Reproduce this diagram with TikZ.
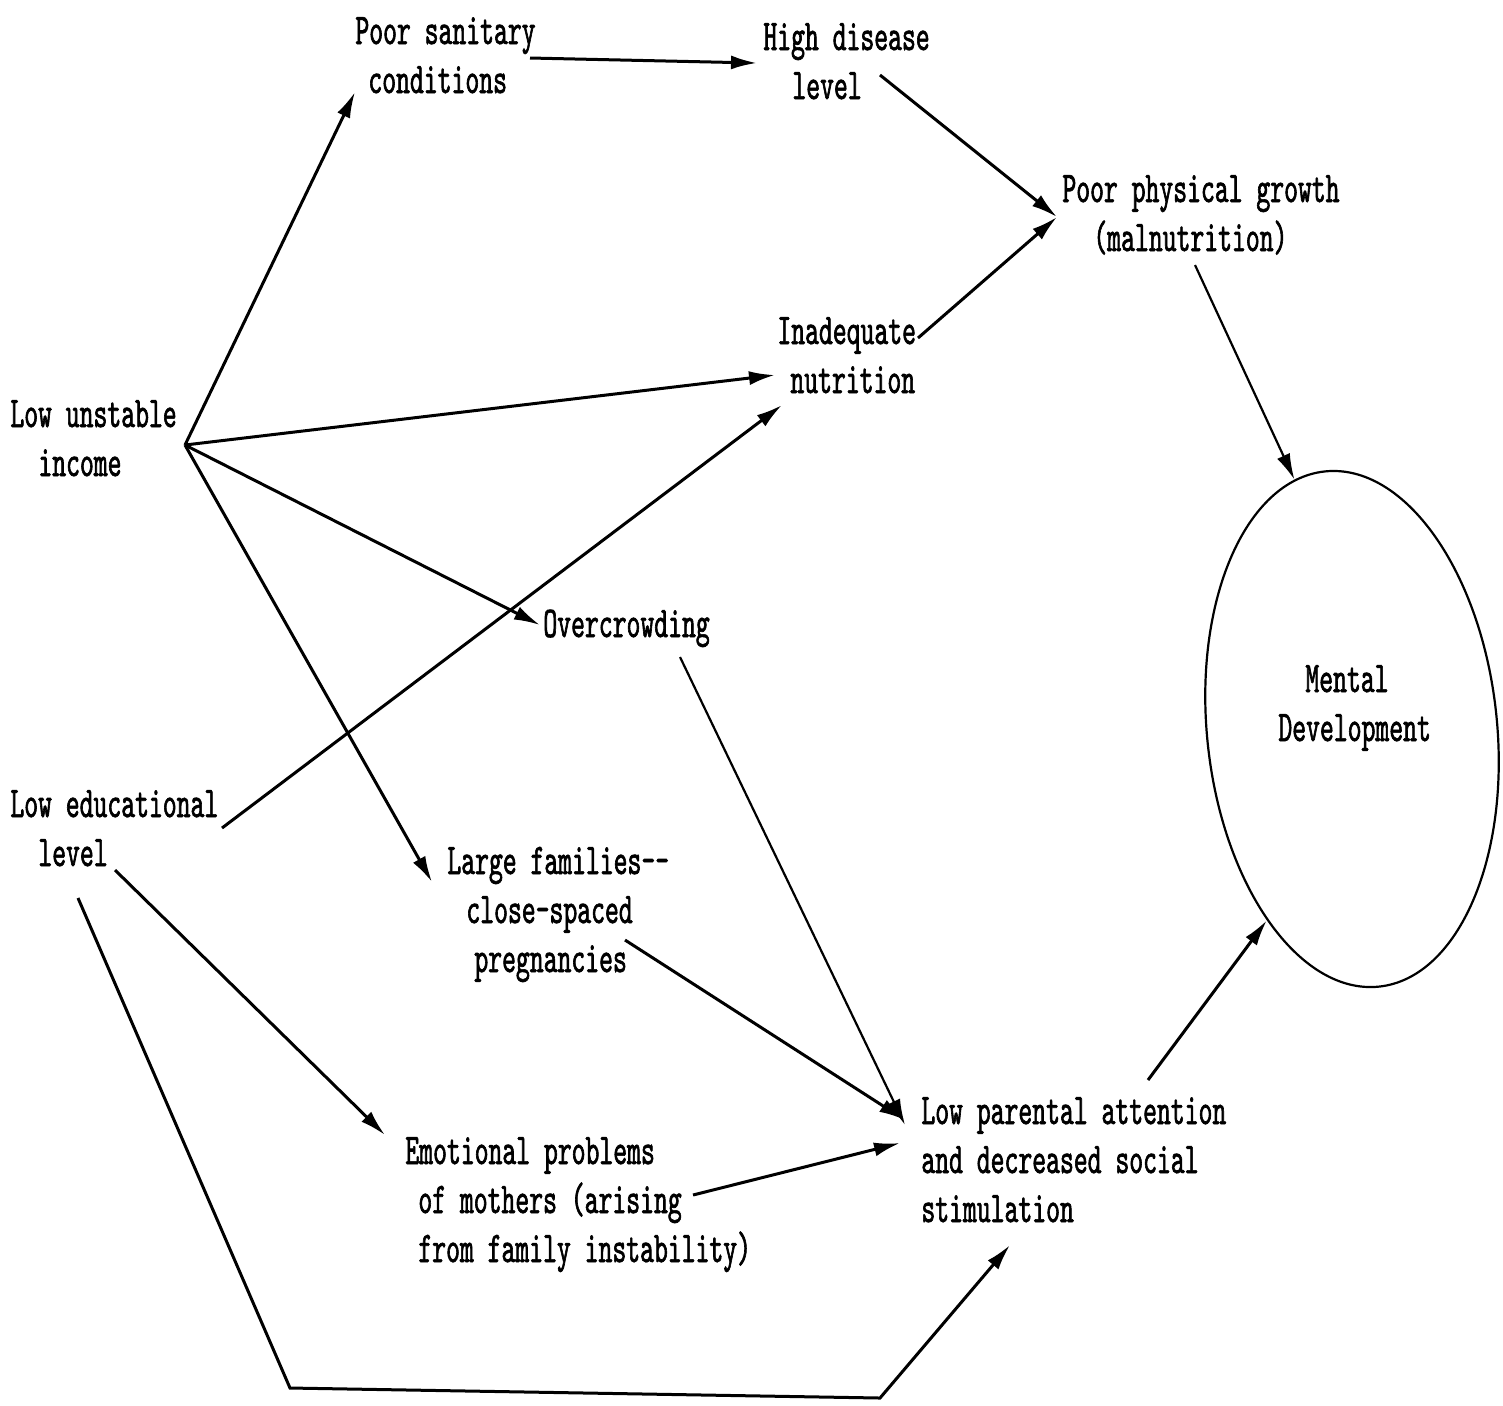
\documentclass[tikz,border=0pt]{standalone}
\usepackage{fontspec}
\usetikzlibrary{arrows.meta,shapes.geometric}
% narrow typewriter face
\newfontfamily\typer{lmmono10-regular.otf}[FakeStretch=0.6,FakeBold=1.4]
\newcommand\ind[1]{\hspace*{#1pt}}
% every label is placed by the baseline of its last line
\tikzset{
  label text/.style={font=\fontsize{22}{24.5}\selectfont\typer, align=left,
    inner sep=0pt, anchor=base west},
  link/.style={line width=1.5pt, -{Latex[length=13pt,width=7pt]}},
  thin link/.style={link, line width=1.1pt},
}
\begin{document}
\begin{tikzpicture}[x=0.5pt,y=-0.5pt]
\fill[white] (0,0) rectangle (1503,1405);
\useasboundingbox (0,0) rectangle (1503,1405);

% causes and effects
\node[label text] (sanitary)  at (355,93)   {Poor sanitary\\\ind{6.5}conditions};
\node[label text] (disease)   at (763,99)   {High disease\\\ind{14.5}level};
\node[label text] (physical)  at (1062,251) {Poor physical growth\\\ind{15.5}(malnutrition)};
\node[label text] (nutrition) at (777,393)  {Inadequate\\\ind{6.5}nutrition};
\node[label text] (income)    at (10,476)   {Low unstable\\\ind{14}income};
\node[label text] (crowd)     at (543,637)  {Overcrowding};
\node[label text] (mental)    at (1278,741) {\ind{13.5}Mental\\Development};
\node[label text] (education) at (10,866)   {Low educational\\\ind{14}level};
\node[label text] (families)  at (447,972)  {Large families--\\\ind{9.5}close-spaced\\\ind{13.5}pregnancies};
\node[label text] (parental)  at (921,1222) {Low parental attention\\and decreased social\\stimulation};
\node[label text] (emotional) at (405,1262) {Emotional problems\\\ind{6.5}of mothers (arising\\\ind{6.5}from family instability)};

% outcome
\node[draw, ellipse, line width=1.1pt, minimum width=145pt, minimum height=259pt,
      inner sep=0pt, rotate=6] (mind) at (1352,729) {};

% connectors
\draw[link] ([shift={(175,-35)}]sanitary.base west) -- ([shift={(-6,-36)}]disease.base west);
\draw[link] ([shift={(117,-24)}]disease.base west) -- ([shift={(-5,-34)}]physical.base west);
\draw[link] ([shift={(141,-55)}]nutrition.base west) -- ([shift={(-5,-34)}]physical.base west);
\draw[thin link] ([shift={(133,14)}]physical.base west) -- (mind.97);

\draw[link] ([shift={(175,-31)}]income.base west) -- ([shift={(0,-1)}]sanitary.base west);
\draw[link] ([shift={(175,-31)}]income.base west) -- ([shift={(-2,-18)}]nutrition.base west);
\draw[link] ([shift={(175,-31)}]income.base west) -- ([shift={(-3,-12)}]crowd.base west);
\draw[link] ([shift={(175,-31)}]income.base west) -- ([shift={(-15,-90)}]families.base west);

\draw[link] ([shift={(212,-38)}]education.base west) -- ([shift={(5,12)}]nutrition.base west);
\draw[link] ([shift={(105,4)}]education.base west) -- ([shift={(-20,-127)}]emotional.base west);
\draw[link] ([shift={(68,32)}]education.base west) -- (290,1388) -- (880,1398)
            -- ([shift={(89,23)}]parental.base west);

\draw[thin link] ([shift={(137,20)}]crowd.base west) -- ([shift={(-16,-97)}]parental.base west);
\draw[link] ([shift={(178,-32)}]families.base west) -- ([shift={(-16,-102)}]parental.base west);
\draw[link] ([shift={(288,-67)}]emotional.base west) -- ([shift={(-21,-79)}]parental.base west);
\draw[link] ([shift={(227,-142)}]parental.base west) -- (mind.240);
\end{tikzpicture}
\end{document}
